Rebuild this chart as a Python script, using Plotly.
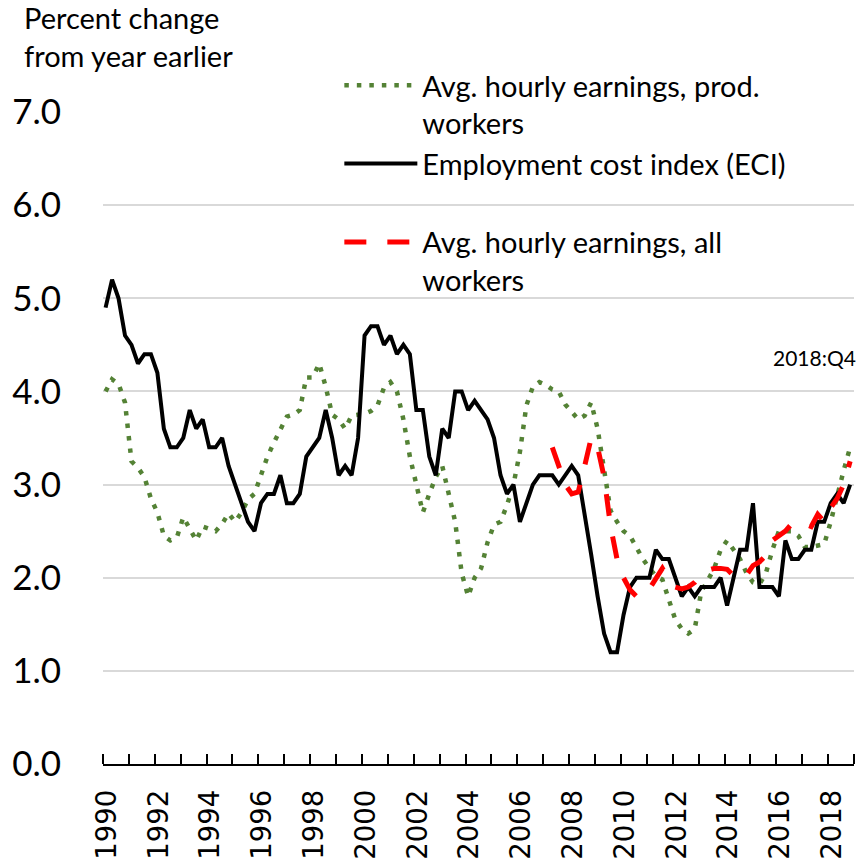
import plotly.graph_objects as go

# ---- data (quarterly, percent change from year earlier) ----
years = list(range(1990, 2019))
quarters = [f"{y}Q{q}" for y in years for q in (1, 2, 3, 4)]

eci = [4.9, 5.2, 5.0, 4.6,
       4.5, 4.3, 4.4, 4.4,
       4.2, 3.6, 3.4, 3.4,
       3.5, 3.8, 3.6, 3.7,
       3.4, 3.4, 3.5, 3.2,
       3.0, 2.8, 2.6, 2.5,
       2.8, 2.9, 2.9, 3.1,
       2.8, 2.8, 2.9, 3.3,
       3.4, 3.5, 3.8, 3.5,
       3.1, 3.2, 3.1, 3.5,
       4.6, 4.7, 4.7, 4.5,
       4.6, 4.4, 4.5, 4.4,
       3.8, 3.8, 3.3, 3.1,
       3.6, 3.5, 4.0, 4.0,
       3.8, 3.9, 3.8, 3.7,
       3.5, 3.1, 2.9, 3.0,
       2.6, 2.8, 3.0, 3.1,
       3.1, 3.1, 3.0, 3.1,
       3.2, 3.1, 2.7, 2.25,
       1.8, 1.4, 1.2, 1.2,
       1.6, 1.9, 2.0, 2.0,
       2.0, 2.3, 2.2, 2.2,
       2.0, 1.8, 1.9, 1.8,
       1.9, 1.9, 1.9, 2.0,
       1.7, 2.0, 2.3, 2.3,
       2.8, 1.9, 1.9, 1.9,
       1.8, 2.4, 2.2, 2.2,
       2.3, 2.3, 2.6, 2.6,
       2.8, 2.9, 2.8, 3.0]

ahe_prod = [4.0, 4.13, 4.08, 3.88,
            3.25, 3.18, 3.08, 2.85,
            2.7, 2.45, 2.4, 2.43,
            2.65, 2.53, 2.4, 2.55,
            2.52, 2.5, 2.58, 2.69,
            2.6, 2.7, 2.84, 2.9,
            3.1, 3.3, 3.45, 3.6,
            3.73, 3.75, 3.8, 4.15,
            4.15, 4.3, 4.05, 3.75,
            3.7, 3.6, 3.74, 3.75,
            3.76, 3.79, 3.85, 4.04,
            4.1, 4.0, 3.7, 3.3,
            3.0, 2.7, 2.9, 3.08,
            3.2, 2.9, 2.6, 2.05,
            1.8, 2.0, 2.1, 2.38,
            2.57, 2.6, 2.78, 3.0,
            3.35, 3.85, 4.05, 4.1,
            4.07, 4.02, 4.0, 3.86,
            3.78, 3.7, 3.74, 3.88,
            3.6, 3.15, 2.72, 2.6,
            2.5, 2.45, 2.32, 2.2,
            2.1, 2.02, 1.98, 1.78,
            1.55, 1.45, 1.4, 1.45,
            1.85, 1.97, 2.1, 2.3,
            2.4, 2.3, 2.2, 2.05,
            1.95, 1.93, 2.05, 2.3,
            2.5, 2.5, 2.5, 2.45,
            2.33, 2.33, 2.35, 2.36,
            2.6, 2.9, 3.15, 3.4]

ahe_all_start = "2007Q2"
ahe_all = [3.4, 3.2, 3.0, 2.9, 2.92, 3.2, 3.5, 3.4, 3.08, 2.55, 2.2, 2.0,
           1.87, 1.8, 1.8, 1.88, 2.0, 2.1, 1.98, 1.9, 1.88, 1.9, 1.95, 2.03,
           2.08, 2.1, 2.1, 2.09, 2.02, 1.98, 2.03, 2.13, 2.17, 2.24, 2.4, 2.45,
           2.5, 2.58, 2.6, 2.58, 2.55, 2.68, 2.6, 2.75, 2.85, 3.0, 3.25]

tick_years = list(range(1990, 2020))
label_years = list(range(1990, 2019, 2))
y_ticks = [0, 1, 2, 3, 4, 5, 6, 7]


def qpos(label):
    y, q = label.split("Q")
    return int(y) + (int(q) - 1) / 4 + 0.1


x_all = [qpos(s) for s in quarters]
x_red = x_all[quarters.index(ahe_all_start):]

fig = go.Figure()
fig.add_trace(go.Scatter(
    x=x_all, y=ahe_prod, mode="lines",
    name="Avg. hourly earnings, prod.<br>workers",
    line=dict(color="#548235", width=4.5, dash="4.5px,8px")))
fig.add_trace(go.Scatter(
    x=x_all, y=eci, mode="lines",
    name="Employment cost index (ECI)<br> ",
    line=dict(color="black", width=4)))
fig.add_trace(go.Scatter(
    x=x_red, y=ahe_all, mode="lines",
    name="Avg. hourly earnings, all<br>workers",
    line=dict(color="#FF0000", width=5, dash="22px,21px")))

fig.update_layout(
    width=862, height=867,
    margin=dict(l=103, r=8, t=112, b=103),
    paper_bgcolor="white", plot_bgcolor="white",
    font=dict(family="Lato", color="black"),
    showlegend=True,
    legend=dict(
        x=0.3147, y=1.080, xanchor="left", yanchor="top",
        bgcolor="rgba(0,0,0,0)", borderwidth=0,
        font=dict(family="Lato", size=29, color="black"),
        itemwidth=73, valign="top", tracegroupgap=0,
    ),
    xaxis=dict(
        range=[1990, 2019], showgrid=False, zeroline=False,
        showline=True, linecolor="black", linewidth=1.5,
        automargin=False,
        tickmode="array",
        tickvals=[y + 0.15 for y in label_years],
        ticktext=[str(y) for y in label_years],
        ticks="", tickangle=-90,
        tickfont=dict(family="DejaVu Sans", size=27.5, color="black"),
        ticklabelstandoff=13,
        minor=dict(tickmode="array", tickvals=tick_years, ticks="inside",
                   ticklen=10, tickwidth=1.5, tickcolor="black",
                   showgrid=False),
    ),
    yaxis=dict(
        range=[0, 7], tickmode="array", tickvals=y_ticks,
        tickformat=".1f", showgrid=True, gridcolor="#D9D9D9", gridwidth=2,
        zeroline=False, showline=False, ticks="", automargin=False,
        tickfont=dict(family="Lato", size=35, color="black"),
        ticklabelstandoff=41,
    ),
    annotations=[
        dict(text="Percent change<br>from year earlier", xref="paper",
             yref="paper", x=-0.108, y=1.175, xanchor="left",
             yanchor="top", align="left", showarrow=False,
             font=dict(family="Lato", size=29, color="black")),
        dict(text="2018:Q4", xref="paper", yref="y", x=1.005, y=4.36,
             xanchor="right", yanchor="middle", showarrow=False,
             font=dict(family="Lato", size=21, color="black")),
    ],
)

fig.write_html("out.html",
               config={"displayModeBar": False},
               post_script="document.body.style.margin='0px';")
